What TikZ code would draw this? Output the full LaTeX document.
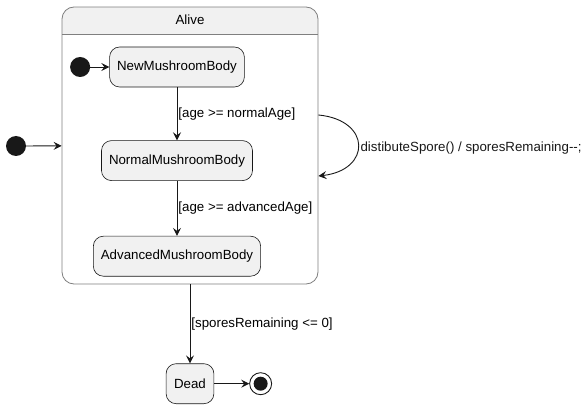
\documentclass[tikz,border=0pt]{standalone}
\usepackage{fontspec}
\setmainfont{Liberation Sans}
\usepackage{xcolor}
\usetikzlibrary{positioning, arrows.meta, calc}
\definecolor{ink}{HTML}{181818}
\definecolor{soft}{HTML}{F1F1F1}
\definecolor{frame}{HTML}{7F7F7F}

\begin{document}
\begin{tikzpicture}[x=1pt,y=-1pt,->,>={Stealth[length=8pt,width=8pt,inset=3pt]},
  every node/.style={font=\fontsize{13.3}{15}\selectfont},
  every edge/.style={draw=ink,line width=0.9pt},
  mstate/.style={draw=ink,line width=0.6pt,fill=soft,rounded corners=10pt,
                 minimum height=40pt,inner xsep=7.5pt},
  start/.style={circle,fill=ink,minimum size=20pt,inner sep=0pt},
  fin/.style={circle,draw=ink,line width=0.9pt,fill=white,minimum size=22pt,inner sep=0pt,
              path picture={\fill[ink] (path picture bounding box.center) circle (7pt);}},
  composite/.style={draw=frame,line width=0.8pt,fill=white,rounded corners=12pt,
                    minimum width=256pt,minimum height=277pt,inner sep=0pt,
    path picture={\fill[soft,sharp corners] (path picture bounding box.north west)
                    rectangle ([yshift=-27pt]path picture bounding box.north east);
                  \draw[-,frame,sharp corners] ([yshift=-27pt]path picture bounding box.north west)
                    -- ([yshift=-27pt]path picture bounding box.north east);},
    label={[anchor=center,yshift=-13.5pt]north:Alive}},
  guard/.style={right,inner sep=1pt}]
  \useasboundingbox (0,0) rectangle (587,409);
  \node[composite] (alive) at (190,145.5) {};
  \node[start] (init) at (16,146) {};
  \node[mstate] (new) at (177,67) {NewMushroomBody};
  \node[start, left=19pt of new] (init2) {};
  \node[mstate, below=53pt of new] (normal) {NormalMushroomBody};
  \node[mstate, below=55pt of normal] (adv) {AdvancedMushroomBody};
  \node[mstate, below=79pt of alive, inner xsep=8pt] (dead) {Dead};
  \node[fin, right=35pt of dead] (end) {};
  \coordinate (loopout) at ([yshift=30.5pt]alive.east);
  \coordinate (loopin) at ([yshift=-30.5pt]alive.east);
  \path (init) edge (alive)
        (init2) edge (new)
        (new) edge node[guard]{[age >= normalAge]} (normal)
        (normal) edge node[guard]{[age >= advancedAge]} (adv)
        (alive) edge node[guard]{[sporesRemaining <= 0]} (dead)
        (dead) edge (end);
  \draw[ink,line width=0.9pt] (loopout) .. controls +(53,5) and +(53,-6) ..
        node[right,inner sep=2pt,yshift=-2.5pt]{distibuteSpore() / sporesRemaining-{}-;} (loopin);
\end{tikzpicture}
\end{document}
